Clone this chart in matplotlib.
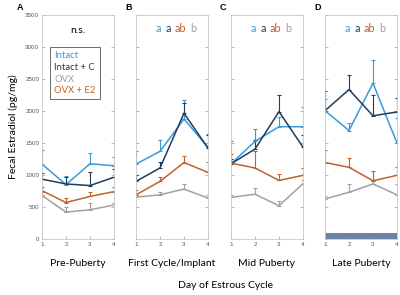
import numpy as np
import matplotlib
matplotlib.use('Agg')
import matplotlib.pyplot as plt

days = [1, 2, 3, 4]
groups = ['Intact', 'Intact + C', 'OVX', 'OVX + E2']
colors = ['#3a9ad9', '#1f3d5c', '#a59f9f', '#c0622a']
panels = ['A', 'B', 'C', 'D']
titles = ['Pre-Puberty', 'First Cycle/Implant', 'Mid Puberty', 'Late Puberty']
sig = [None, ['a', 'a', 'ab', 'b'], ['a', 'a', 'ab', 'b'], ['a', 'a', 'ab', 'b']]
sig_colors = ['#3a9ad9', '#1f3d5c', '#c0622a', '#a59f9f']

# means per panel, order: Intact, Intact + C, OVX, OVX + E2
mean_A = [[1170, 850, 1175, 1145], [935, 860, 835, 965], [680, 420, 457, 530], [755, 570, 665, 740]]
mean_B = [[1170, 1370, 1875, 1430], [900, 1110, 1965, 1420], [655, 690, 780, 640], [690, 900, 1195, 1040]]
mean_C = [[1175, 1525, 1755, 1755], [1175, 1405, 1990, 1435], [650, 700, 520, 865], [1185, 1110, 915, 995]]
mean_D = [[2005, 1695, 2435, 1500], [2005, 2335, 1925, 1985], [625, 730, 860, 690], [1195, 1120, 910, 995]]

# upper error (SEM) per panel
err_A = [[220, 140, 170, 130], [100, 115, 205, 135], [60, 75, 110, 40], [65, 70, 75, 65]]
err_B = [[210, 180, 300, 215], [105, 90, 155, 210], [40, 50, 80, 40], [80, 75, 95, 170]]
err_C = [[360, 190, 150, 305], [70, 145, 260, 195], [40, 95, 80, 60], [145, 260, 105, 115]]
err_D = [[190, 125, 355, 390], [300, 230, 325, 215], [50, 130, 40, 170], [200, 145, 160, 125]]

means = [mean_A, mean_B, mean_C, mean_D]
errs = [err_A, err_B, err_C, err_D]

plt.rcParams['font.family'] = ['Lato', 'DejaVu Sans']
fig = plt.figure(figsize=(4.0, 2.95), dpi=100)

lefts = [42, 136, 231, 325]
letter_x = [20, 129, 223, 318]
W, H = 400, 295
spine_c = '#c8c8c8'
for i in range(4):
    ax = fig.add_axes([lefts[i] / W, (H - 239) / H, 72 / W, (239 - 15) / H])
    for g in range(4):
        m = np.array(means[i][g])
        e = np.array(errs[i][g])
        ax.errorbar(days, m, yerr=[np.zeros(4), e], color=colors[g], lw=1.1,
                    elinewidth=0.8, capsize=1.2, capthick=0.8)
    if i == 3:
        ax.fill_between([1, 4], 0, 100, color='#6a84a6', lw=0)
    ax.set_xlim(1, 4)
    ax.set_ylim(0, 3500)
    ax.set_xticks(days)
    ax.set_yticks(np.arange(0, 3501, 500))
    ax.tick_params(direction='in', length=2, width=0.5, color='#9a9a9a',
                   labelsize=4.5, labelcolor='#555555', pad=2, right=True)
    for tl in ax.get_xticklabels() + ax.get_yticklabels():
        tl.set_family('Liberation Sans')
    if i > 0:
        ax.set_yticklabels([])
    for s in ax.spines.values():
        s.set_color(spine_c)
        s.set_linewidth(0.6)
    fig.text(letter_x[i] / W, 1 - 7 / H, panels[i], fontsize=6.5,
             fontweight='bold', ha='center', va='center', family='Liberation Sans')
    ax.text(0.5, -(263 - 239) / 224, titles[i], transform=ax.transAxes, fontsize=7.5,
            ha='center', va='center')
    if sig[i] is None:
        ax.text(0.5, 0.93, 'n.s.', transform=ax.transAxes, fontsize=7.5,
                ha='center', va='center')
    else:
        xs = [0.31, 0.445, 0.615, 0.79]
        for k in range(4):
            ax.text(xs[k], 0.94, sig[i][k], transform=ax.transAxes, fontsize=7.8,
                    color=sig_colors[k], ha='center', va='center')
    if i == 0:
        ax.set_ylabel('Fecal Estradiol (pg/mg)', fontsize=7.5, labelpad=5)
        leg = [plt.Line2D([], [], color=c) for c in colors]
        lg = ax.legend(leg, groups, loc='upper left', bbox_to_anchor=(0.11, 0.857),
                       handlelength=0, handletextpad=0, fontsize=6.8,
                       frameon=True, fancybox=False, edgecolor='#444444',
                       borderpad=0.45, labelspacing=0.28, borderaxespad=0)
        lg.get_frame().set_linewidth(0.7)
        for t, c in zip(lg.get_texts(), colors):
            t.set_color(c)

fig.text(226 / W, 1 - 286 / H, 'Day of Estrous Cycle', fontsize=7.5,
         ha='center', va='center')
fig.savefig('out.png', dpi=100)
